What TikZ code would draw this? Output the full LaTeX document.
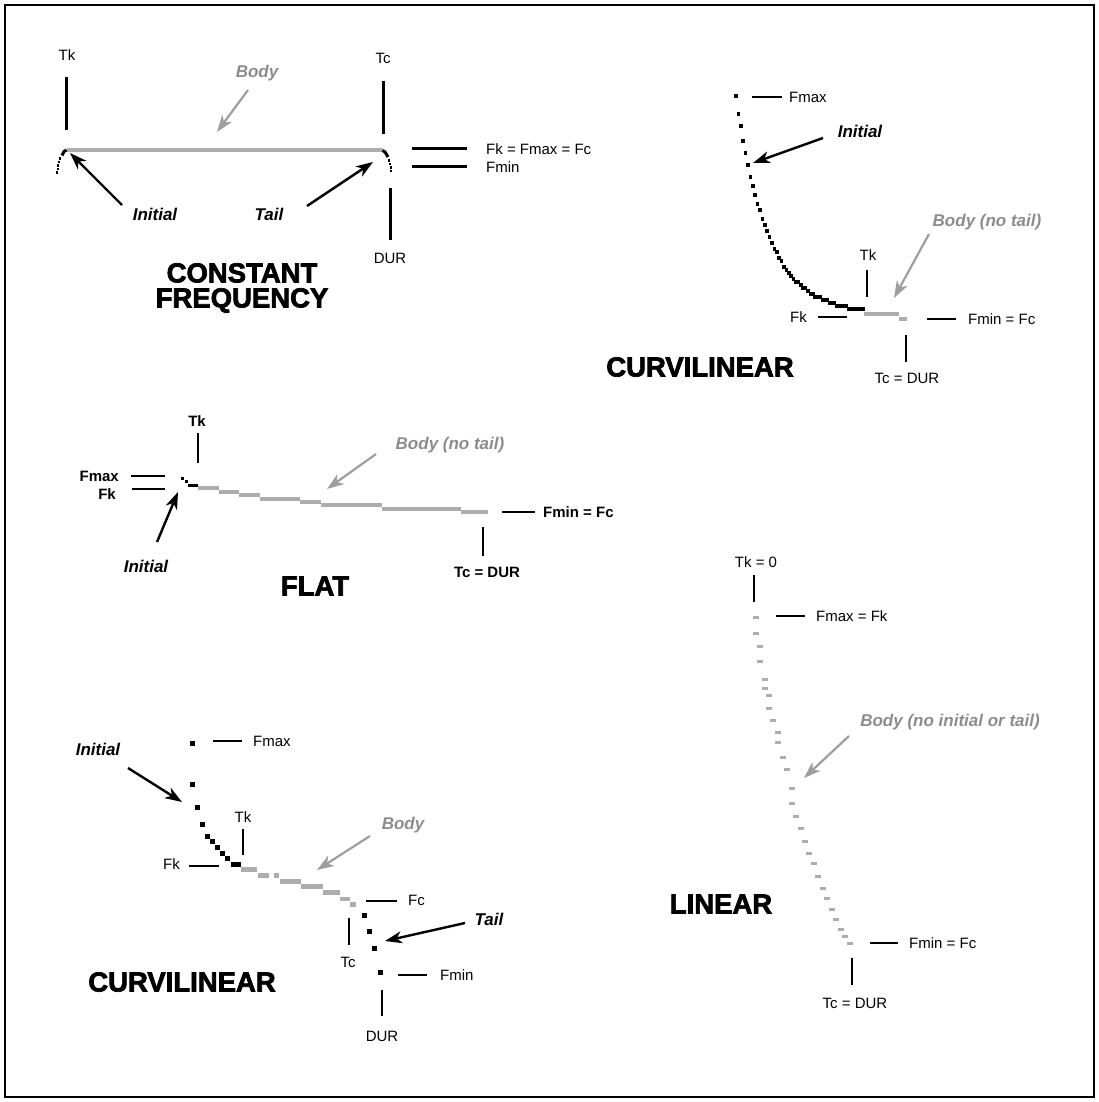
\documentclass[tikz,border=0pt]{standalone}
\usepackage{fontspec}
\setmainfont{Liberation Sans}
\newfontfamily\titlefont[FakeBold=2.6]{Liberation Sans Bold}
\usetikzlibrary{arrows.meta}
\definecolor{bodyText}{gray}{0.55}
\definecolor{bodyLine}{gray}{0.68}
\definecolor{bodyArrow}{gray}{0.62}
\tikzstyle{markLabel}=[inner sep=0pt, font=\fontsize{15}{15}\selectfont]
\tikzstyle{boldLabel}=[inner sep=0pt, font=\bfseries\fontsize{15}{15}\selectfont]
\tikzstyle{partLabel}=[inner sep=0pt, font=\bfseries\itshape\fontsize{17}{17}\selectfont]
\tikzstyle{bodyLabel}=[partLabel, text=bodyText]
\tikzstyle{shapeTitle}=[inner sep=0pt, align=center, font=\titlefont\fontsize{27.5}{25}\selectfont]
\tikzstyle{pointer}=[-{Stealth[length=17pt, width=12pt, inset=5pt]}, line width=2.4pt]
\tikzstyle{bodyPointer}=[pointer, bodyArrow, line width=2.2pt]
\tikzstyle{markTick}=[line width=1.8pt]
\tikzstyle{heavyTick}=[line width=3pt]

\begin{document}
\begin{tikzpicture}[x=1pt, y=-1pt]
	\useasboundingbox (0,0) rectangle (1099,1102);
	\draw[line width=1.5pt] (5,5) rectangle (1094,1097);

	% constant frequency
	\node[markLabel] (cfTk) at (67, 55) {Tk};
	\node[markLabel] (cfTc) at (383, 58) {Tc};
	\node[markLabel] (cfDur) at (390, 258) {DUR};
	\node[markLabel, anchor=west] (cfFk) at (486, 149) {Fk = Fmax = Fc};
	\node[markLabel, anchor=west] (cfFmin) at (486, 167) {Fmin};
	\node[bodyLabel] (cfBody) at (257, 73) {Body};
	\node[partLabel] (cfInitial) at (155, 214) {Initial};
	\node[partLabel] (cfTail) at (269, 214) {Tail};
	\node[shapeTitle] (cfTitle) at (242, 288) {CONSTANT\\FREQUENCY};

	\draw[heavyTick] (66, 77) -- (66, 130);
	\draw[heavyTick] (383, 81) -- (383, 134);
	\draw[heavyTick] (390, 188) -- (390, 240);
	\draw[heavyTick] (412, 149) -- (467, 149);
	\draw[heavyTick] (412, 167) -- (467, 167);

	\draw[bodyLine, line width=4pt] (67, 150) -- (383, 150);
	\draw[line width=3pt] (66.5, 150) -- (64, 151.5) -- (62, 155.5);
	\draw[line width=3pt] (382.5, 150.5) -- (385, 152) -- (388, 157);
	\foreach \x/\y in {60/158.5, 59/162, 58.2/165.5, 57.6/169, 57.2/172.5, 389/160.5, 390/164, 390.7/167.5, 391.2/171}
		\fill (\x-1, \y-1) rectangle ++(2.2, 2.2);

	\coordinate (cfBodyFrom) at (248, 90);
	\coordinate (cfBodyTo) at (217, 132);
	\coordinate (cfInitialFrom) at (122, 205);
	\coordinate (cfInitialTo) at (70, 153);
	\coordinate (cfTailFrom) at (307, 206);
	\coordinate (cfTailTo) at (373, 162);
	\draw[bodyPointer] (cfBodyFrom) -- (cfBodyTo);
	\draw[pointer] (cfInitialFrom) -- (cfInitialTo);
	\draw[pointer] (cfTailFrom) -- (cfTailTo);

	% curvilinear, no tail
	\foreach \i in {0,...,53} {
		\pgfmathsetmacro\sx{736+2.4*\i}
		\pgfmathsetmacro\sy{3*round((314-217*exp(-2.4*\i/32))/3)}
		\fill (\sx-1.8, \sy-1.8) rectangle ++(3.6, 3.6);
	}
	\fill[bodyLine] (864, 312) rectangle (899, 316);
	\fill[bodyLine] (899, 317) rectangle (907, 320.5);

	\node[markLabel, anchor=west] (cvaFmax) at (789, 97) {Fmax};
	\node[partLabel] (cvaInitial) at (860, 131) {Initial};
	\node[bodyLabel] (cvaBody) at (987, 222) {Body (no tail)};
	\node[markLabel] (cvaTk) at (868, 255) {Tk};
	\node[markLabel, anchor=east] (cvaFk) at (807, 317) {Fk};
	\node[markLabel, anchor=west] (cvaFmin) at (968, 319) {Fmin = Fc};
	\node[markLabel] (cvaTc) at (907, 378) {Tc = DUR};
	\node[shapeTitle] (cvaTitle) at (700, 367) {CURVILINEAR};

	\draw[markTick] (752, 97) -- (782, 97);
	\draw[markTick] (867, 270) -- (867, 297);
	\draw[markTick] (818, 317) -- (847, 317);
	\draw[markTick] (927, 319) -- (956, 319);
	\draw[markTick] (906, 335) -- (906, 362);

	\coordinate (cvaInitialFrom) at (823, 138);
	\coordinate (cvaInitialTo) at (753, 163);
	\coordinate (cvaBodyFrom) at (929, 234);
	\coordinate (cvaBodyTo) at (894, 298);
	\draw[pointer] (cvaInitialFrom) -- (cvaInitialTo);
	\draw[bodyPointer] (cvaBodyFrom) -- (cvaBodyTo);

	% flat
	\fill (181.2, 476.8) rectangle ++(3, 3);
	\fill (185.2, 480.2) rectangle ++(3, 3);
	\fill (188, 483.5) rectangle (198, 486.5);
	\foreach \xa/\xb/\y in {198/219/488, 219/239/492, 239/260/495, 260/300/499, 300/321/502, 321/382/505, 382/461/509, 461/488/512}
		\fill[bodyLine] (\xa, \y-1.8) rectangle (\xb, \y+1.8);

	\node[boldLabel] (flTk) at (197, 421) {Tk};
	\node[boldLabel, anchor=east] (flFmax) at (119, 476) {Fmax};
	\node[boldLabel, anchor=east] (flFk) at (116, 494) {Fk};
	\node[bodyLabel] (flBody) at (450, 445) {Body (no tail)};
	\node[partLabel] (flInitial) at (146, 566) {Initial};
	\node[boldLabel, anchor=west] (flFmin) at (543, 512) {Fmin = Fc};
	\node[boldLabel] (flTc) at (487, 572) {Tc = DUR};
	\node[shapeTitle] (flTitle) at (315, 586) {FLAT};

	\draw[markTick] (198, 433) -- (198, 463);
	\draw[markTick] (131, 476) -- (165, 476);
	\draw[markTick] (132, 489) -- (165, 489);
	\draw[markTick] (502, 512) -- (535, 512);
	\draw[markTick] (483, 527) -- (483, 556);

	\coordinate (flBodyFrom) at (376, 454);
	\coordinate (flBodyTo) at (327, 489);
	\coordinate (flInitialFrom) at (157, 542);
	\coordinate (flInitialTo) at (178, 492);
	\draw[bodyPointer] (flBodyFrom) -- (flBodyTo);
	\draw[pointer] (flInitialFrom) -- (flInitialTo);

	% curvilinear with tail
	\foreach \x/\y in {192/743, 192/784, 197/807, 202/824, 207/836, 212.3/841.7, 217.7/847.7, 222.7/853.3, 227.7/858.3, 364/915, 369.3/931.7, 374.7/948.3, 380/972.3}
		\fill (\x-2.5, \y-2.5) rectangle ++(5, 5);
	\fill (231, 861.5) rectangle (241, 866.5);
	\foreach \xa/\xb/\y in {241/257/869.5, 258/269/875.5, 274/279/875.5, 280/301/881.5, 301/323/886.7, 323/340/892.7, 340/350/899, 350/356/904.3}
		\fill[bodyLine] (\xa, \y-2.3) rectangle (\xb, \y+2.3);

	\node[markLabel, anchor=west] (cvbFmax) at (253, 741) {Fmax};
	\node[partLabel] (cvbInitial) at (98, 749) {Initial};
	\node[markLabel] (cvbTk) at (243, 817) {Tk};
	\node[markLabel, anchor=east] (cvbFk) at (180, 864) {Fk};
	\node[bodyLabel] (cvbBody) at (403, 825) {Body};
	\node[markLabel, anchor=west] (cvbFc) at (408, 900) {Fc};
	\node[partLabel] (cvbTail) at (489, 919) {Tail};
	\node[markLabel] (cvbTc) at (348, 962) {Tc};
	\node[markLabel, anchor=west] (cvbFmin) at (440, 975) {Fmin};
	\node[markLabel] (cvbDur) at (382, 1036) {DUR};
	\node[shapeTitle] (cvbTitle) at (182, 982) {CURVILINEAR};

	\draw[markTick] (213, 741) -- (242, 741);
	\draw[markTick] (243, 829) -- (243, 855);
	\draw[markTick] (189, 866) -- (219, 866);
	\draw[markTick] (366, 901) -- (397, 901);
	\draw[markTick] (349, 918) -- (349, 945);
	\draw[markTick] (398, 975) -- (427, 975);
	\draw[markTick] (382, 990) -- (382, 1016);

	\coordinate (cvbInitialFrom) at (128, 768);
	\coordinate (cvbInitialTo) at (182, 802);
	\coordinate (cvbBodyFrom) at (370, 836);
	\coordinate (cvbBodyTo) at (317, 870);
	\coordinate (cvbTailFrom) at (465, 923);
	\coordinate (cvbTailTo) at (385, 941);
	\draw[pointer] (cvbInitialFrom) -- (cvbInitialTo);
	\draw[bodyPointer] (cvbBodyFrom) -- (cvbBodyTo);
	\draw[pointer] (cvbTailFrom) -- (cvbTailTo);

	% linear
	\foreach \x/\y in {756/617, 756/633, 760/646, 760/661, 765/679, 765/688, 769/695, 769/708, 773/720, 778/732, 778/742, 783/757, 787/769, 792/788, 792/803, 796/816, 801/828, 805/841, 809/853, 814/863, 818/876, 823/888, 827/898, 832/909, 836/919, 841/929, 845/936, 850/943}
		\fill[bodyLine] (\x-2.6, \y-1.5) rectangle ++(5.2, 3);

	\node[markLabel] (liTk) at (756, 562) {Tk = 0};
	\node[markLabel, anchor=west] (liFmax) at (816, 616) {Fmax = Fk};
	\node[bodyLabel] (liBody) at (950, 722) {Body (no initial or tail)};
	\node[markLabel, anchor=west] (liFmin) at (909, 943) {Fmin = Fc};
	\node[markLabel] (liTc) at (855, 1003) {Tc = DUR};
	\node[shapeTitle] (liTitle) at (721, 904) {LINEAR};

	\draw[markTick] (754, 575) -- (754, 602);
	\draw[markTick] (776, 616) -- (805, 616);
	\draw[markTick] (870, 943) -- (898, 943);
	\draw[markTick] (852, 958) -- (852, 985);

	\coordinate (liBodyFrom) at (849, 736);
	\coordinate (liBodyTo) at (804, 778);
	\draw[bodyPointer] (liBodyFrom) -- (liBodyTo);
\end{tikzpicture}
\end{document}
